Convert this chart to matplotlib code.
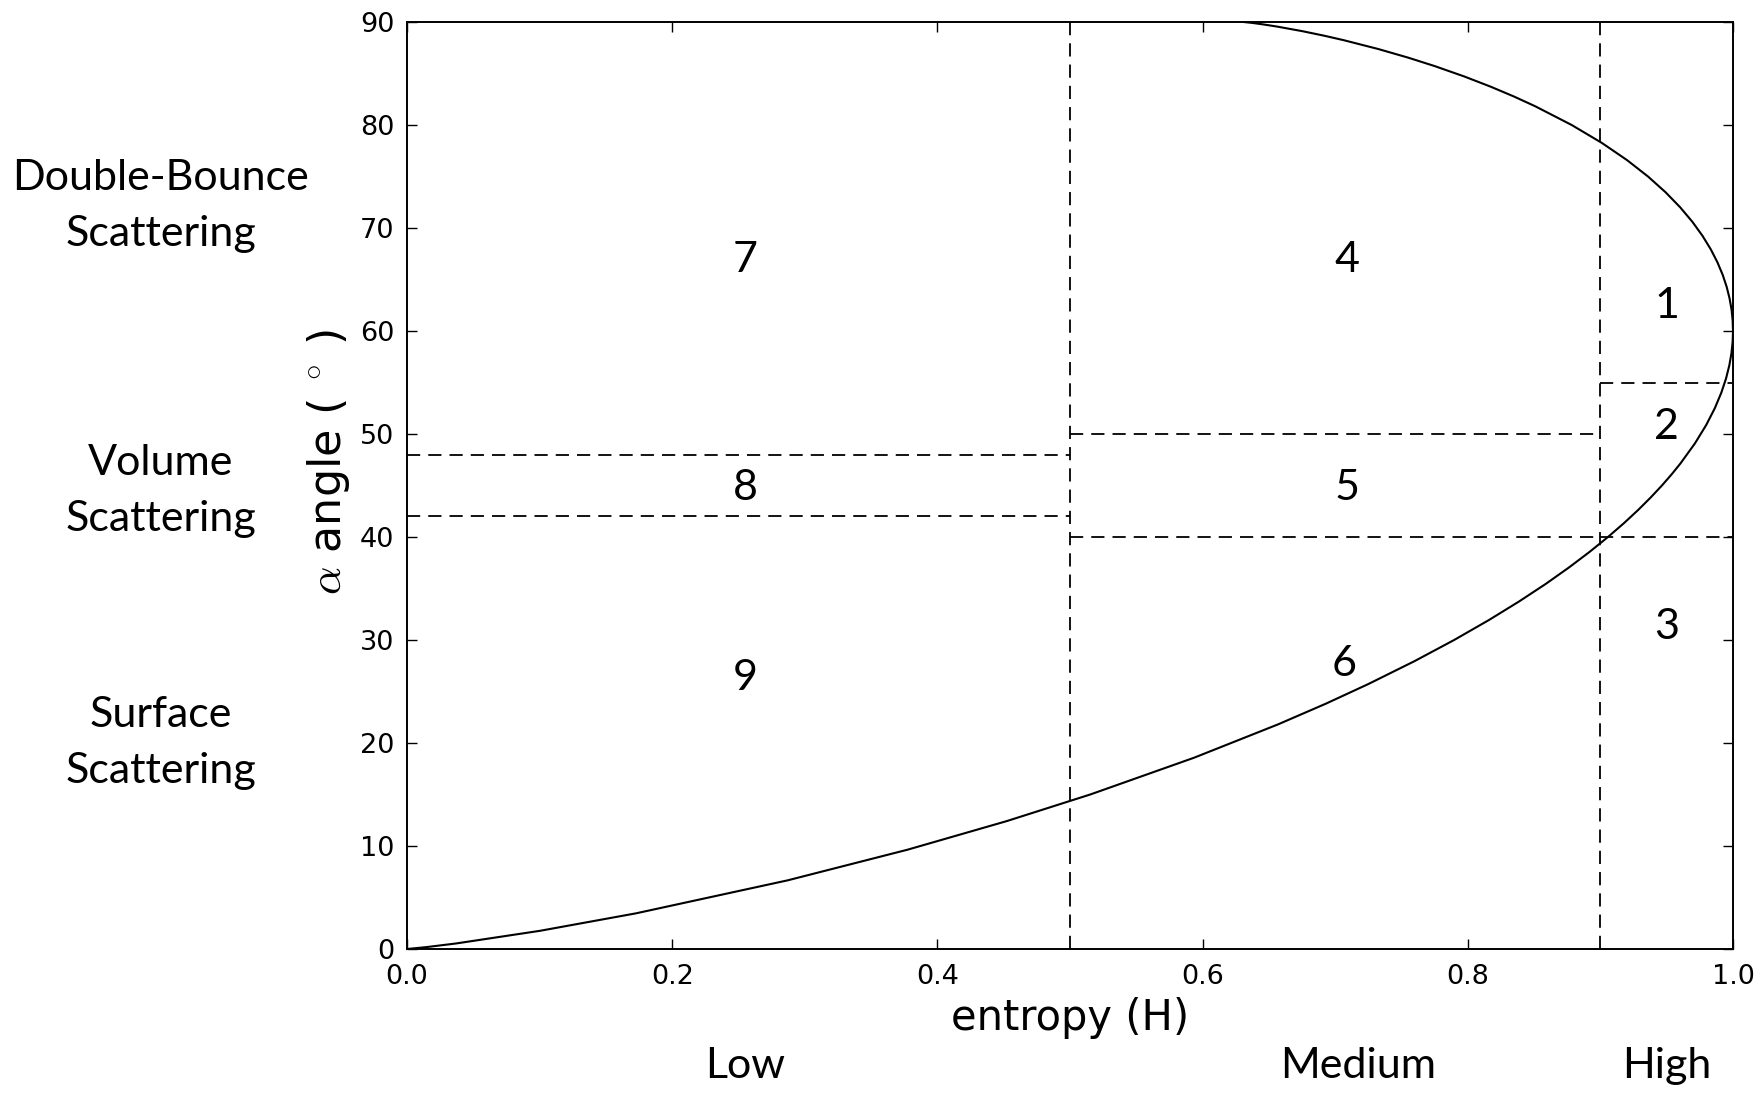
import matplotlib
matplotlib.use("Agg")
import matplotlib.pyplot as plt
from matplotlib.transforms import blended_transform_factory

plt.rcParams["lines.scale_dashes"] = False
plt.rcParams["mathtext.fontset"] = "cm"

# Feasible-region boundary of the H/alpha plane (points along each curve)
lower_H = [0.0, 0.01437, 0.03698, 0.10022, 0.17266, 0.28709, 0.37754, 0.45220,
           0.51527, 0.59358, 0.65709, 0.69306, 0.72483, 0.75958, 0.78969,
           0.81589, 0.83878, 0.85889, 0.87648, 0.89201, 0.90571, 0.91782,
           0.92853, 0.93800, 0.94640, 0.95382, 0.96038, 0.97131, 0.97978,
           0.98627, 0.99116, 0.99474, 0.99724, 0.99885, 0.99973, 1.0]
lower_alpha = [0.0, 0.1796, 0.5368, 1.7647, 3.4615, 6.6667, 9.6429, 12.4138,
               15.0, 18.5714, 21.8182, 23.8235, 25.7143, 27.931, 30.0,
               31.9355, 33.75, 35.4545, 37.0588, 38.5714, 40.0, 41.3514,
               42.6316, 43.8462, 45.0, 46.0976, 47.1429, 49.0909, 50.8696,
               52.5, 54.0, 55.3846, 56.6667, 57.8571, 58.9655, 60.0]

upper_H = [0.63093, 0.63749, 0.64523, 0.65633, 0.67525, 0.69165, 0.70640,
           0.73242, 0.75505, 0.77515, 0.79745, 0.81723, 0.83494, 0.85086,
           0.87835, 0.90109, 0.92004, 0.93589, 0.94915, 0.96023, 0.96944,
           0.97704, 0.98326, 0.98827, 0.99222, 0.99523, 0.99742, 0.99891,
           0.99974, 1.0]
upper_alpha = [90.0, 89.9101, 89.7756, 89.552, 89.1089, 88.670, 88.2353,
               87.3786, 86.5385, 85.7143, 84.7059, 83.7209, 82.7586, 81.8182,
               80.0, 78.2609, 76.5957, 75.0, 73.4694, 72.0, 70.5882,
               69.2308, 67.9245, 66.6667, 65.4545, 64.2857, 63.1579, 62.069,
               61.0169, 60.0]

# Zone partition: entropy splits and alpha splits inside each entropy column
entropy_splits = [0.5, 0.9]
low_alpha_splits = [42, 48]
medium_alpha_splits = [40, 50]
high_alpha_splits = [40, 55]

# Zone numbers and where they are written (H, alpha)
zone_ids = ["7", "4", "1", "8", "5", "2", "9", "6", "3"]
zone_H = [0.255, 0.709, 0.950, 0.255, 0.709, 0.950, 0.255, 0.707, 0.950]
zone_alpha = [66.9, 66.9, 62.4, 44.8, 44.8, 50.7, 26.3, 27.7, 31.3]

# Entropy class names under the axis
entropy_classes = ["Low", "Medium", "High"]
entropy_class_H = [0.255, 0.717, 0.950]

# Scattering mechanism names beside the alpha axis
mechanisms = ["Double-Bounce\nScattering", "Volume\nScattering", "Surface\nScattering"]
mechanism_y = [206, 491, 743]

x_ticks = [0.0, 0.2, 0.4, 0.6, 0.8, 1.0]
y_ticks = [0, 10, 20, 30, 40, 50, 60, 70, 80, 90]

W, Hpx = 1765, 1095
fig = plt.figure(figsize=(W / 100, Hpx / 100), dpi=100)
ax = fig.add_axes([407 / W, 1 - 949 / Hpx, (1733 - 407) / W, (949 - 22) / Hpx])

ax.plot(lower_H, lower_alpha, color="black", lw=1.5)
ax.plot(upper_H, upper_alpha, color="black", lw=1.5)

dash = dict(color="black", lw=1.3, dashes=(9.5, 5.8))
for h in entropy_splits:
    ax.plot([h, h], [0, 90], **dash)
for a in low_alpha_splits:
    ax.plot([0.0, entropy_splits[0]], [a, a], **dash)
for a in medium_alpha_splits:
    ax.plot([entropy_splits[0], entropy_splits[1]], [a, a], **dash)
for a in high_alpha_splits:
    ax.plot([entropy_splits[1], 1.0], [a, a], **dash)

label_font = ["Lato", "DejaVu Sans"]
for z, h, a in zip(zone_ids, zone_H, zone_alpha):
    ax.text(h, a, z, ha="center", va="center", fontsize=31, family=label_font)

ax.set_xlim(0, 1)
ax.set_ylim(0, 90)
ax.set_xticks(x_ticks)
ax.set_yticks(y_ticks)
ax.set_xticklabels([f"{v:.1f}" for v in x_ticks])
ax.tick_params(direction="in", length=7, width=1, top=True, right=True,
               labelsize=19.5, pad=9)
ax.tick_params(axis="x", pad=11)
for s in ax.spines.values():
    s.set_linewidth(1.4)

ax.set_xlabel("entropy (H)", fontsize=30, labelpad=5)
ax.set_ylabel(r"$\alpha$ angle ($\;^\circ\;$)", fontsize=32, labelpad=6)
ax.yaxis.label.set_position((0, 0.525))

trans = blended_transform_factory(ax.transData, fig.transFigure)
for name, h in zip(entropy_classes, entropy_class_H):
    ax.text(h, 1 - 1066 / Hpx, name, transform=trans, ha="center", va="center",
            fontsize=31, family=label_font)

for name, y in zip(mechanisms, mechanism_y):
    fig.text(161 / W, 1 - y / Hpx, name, ha="center", va="center",
             fontsize=31, family=label_font, linespacing=1.55)

fig.savefig("out.png", dpi=100)
